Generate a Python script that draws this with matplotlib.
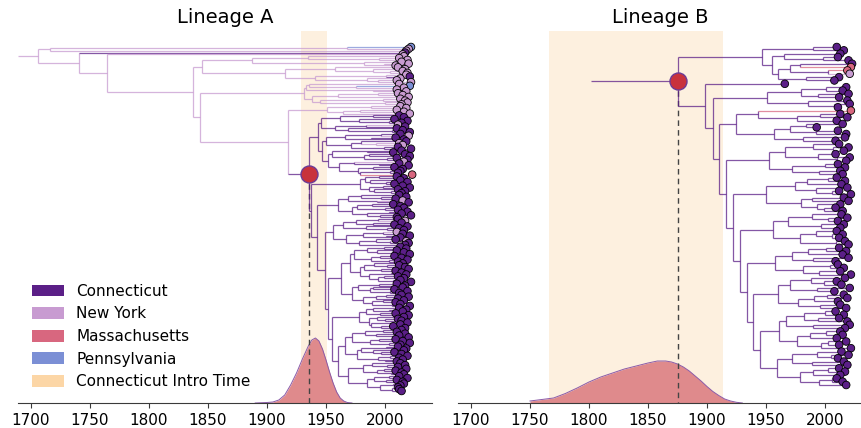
import matplotlib.pyplot as plt
from matplotlib.collections import LineCollection
from matplotlib.patches import Patch
from matplotlib.transforms import blended_transform_factory

# state colours
state_colors = {'c': '#5b1f87', 'n': '#c89bd1', 'm': '#d8677f', 'p': '#7b8fd5'}
state_names = {'c': 'Connecticut', 'n': 'New York', 'm': 'Massachusetts', 'p': 'Pennsylvania'}
intro_color = '#fcd6a6'

# trees: "(child,child)<state><year>", tips "<state><year>", state inherited if missing, * = CT introduction node
A_top = "((p2022,2020)1968,2018)n1716"
A1 = ("(((2016,(2012,2019)1995)1935,(2014,(2020,2009)1999)1982)1887,((2011,(2017,(2015,2019)2004)1990)1958,"
      "((2018,c2021)2001,(2013,(2010,2022)1994)1985)1941)1915)n1845")
A2a = ("(((2012,(p2021,2016)1975)1936,(2010,2018)1990)1933,(((2011,2015)1994,2020)1960,"
       "((2013,2017)1998,(2019,2014)2000)1945)1938)n1931")
A2b_ny = "((2013,2018)1988,((2010,2016)1979,2021)1964)n1951"
U1 = "(((2012,2016)1990,(2008,(2019,2014)2003)1978)1962,((n2011,2017)1984,(2010,(2015,2021)2006)1969)1958)c1946"
U2 = ("((((2013,n2020)1997,(2009,2016)1988)1966,((2018,(2012,2015)n1992)1980,(2011,2022)1999)1971)1950,"
      "(((2014,2007)1985,((2017,2021)1986,(2010,2019)2002)1982)1955,((n2016,(2012,2020)1995)1974,"
      "((2008,2015)1990,((2013,2011)2004,m2023)1979)1977)1961)1952)c1947")
L1 = "(((2010,2016)1995,(2013,(2019,2008)2001)1987)1983,((2015,2021)1998,(2011,(2017,2014)2005)1991)1986)c1979"
L2 = ("(((2012,(2018,2009)1997)1980,(n2015,2020)1993)1969,(((2007,2013)1989,(2016,2011)2000)1976,"
      "((2019,2014)2003,(2022,2010)1996)1985)1972)c1960")
L3 = ("((((2011,n2017)1994,(2014,2008)1990)1975,(2019,(2012,2016)2002)1984)1964,(((n2010,2015)1998,"
      "(2021,2013)2001)1981,((2009,(n2018,2020)2004)1992,2017)1978)1967)c1956")
L4a = ("((((2013,2018)1999,(2010,(2016,2021)2006)1993)1985,((2008,2014)1996,(2019,2011)2003)1988)1974,"
       "(((2015,(2012,2017)2002)1991,(2020,2009)1997)1982,((2014,2018)2005,((2011,2016)1999,(2013,2022)2007)1994)1986)1979)c1970")
L4b = ("(((2010,2017)1995,((2015,2008)1990,(2019,2012)2004)1987)1977,(((2014,2020)2001,2011)1992,"
       "((2016,2009)1998,(2013,2021)2006)1989)1981)c1972")
L5 = ("(((2012,(2018,2015)2003)1990,(2009,2020)1996)1984,((2016,(2011,2014)2000)1993,"
      "((2019,2013)2005,(2007,2017)1997)1988)1986)c1978")
L6a = ("((((2014,2010)1998,(2017,(2012,2020)2006)1992)1983,((2009,2015)1995,(2021,2013)2003)1987)1972,"
       "(((2011,2018)2001,(2016,(2008,2014)1997)1990)1980,((2019,2012)2004,(2015,2010)2000)1994)1976)c1966")
L6b = ("(((2013,(2017,2011)2002)1989,((2018,2009)1999,(2014,2016)2005)1993)1981,(((2012,2019)2003,"
       "(2010,2015)2001)1991,((2016,2013)2007,((2011,2012)2009,2014)2006)1996)1985)c1969")

Btop = ("((2010,2016)1990,((2013,(2011,2020)1998)1965,(((2023,m2022)1979,(m2019,n2021)2003)1970,"
        "(2012,2008)1984)1960)1955)c1947")
B2 = "(((2018,2015)2001,(2020,2012)1994)1980,(2019,(2021,2011)2008)1986)c1951"
B3 = "((m2022,((2013,2019)1996,2010)1976)1943,(((2015,1993)1984,(2011,2018)1992)1970,(2017,2009)1981)1957)c1925"
B4 = "(((2012,(2020,2016)2007)1990,(2009,(2021,2018)2010)1994)1966,((2011,2017)2000,(2013,2015)1995)1972)c1953"
B5 = "((((2010,2017)2003,2014)1985,(2019,(2012,2022)2006)1992)1975,((2016,2020)1989,(2013,(2009,2015)1999)1993)1980)c1950"
B6 = "(((2014,(2019,2011)2003)1989,(2016,2013)1997)1969,((2010,(2015,2012)2006)1992,(2017,2020)2009)1979)c1956"
B7 = "((((2012,2018)2001,2015)1986,(2020,2009)1990)1972,((2011,2016)2004,(2013,2022)1995)1981)c1958"
B8 = "(((2017,(2010,2014)1999)1988,(2021,2008)1993)1970,(((2016,2019)2002,2011)1991,(2013,2018)1996)1977)c1960"
B9 = ("((((2009,2016)2000,(2012,2019)1994)1982,(2021,2017)1990)1967,(((2013,2015)2001,2010)1987,"
      "((2018,2012)2003,2022)1997)1976)c1961")
B10 = "(((2014,(2020,2011)2005)1993,(2016,2019)1989)1972,(((2012,2017)2003,2013)1990,((2010,2015)2006,2018)1995)1979)c1959"

U = "(" + U1 + "," + U2 + ")c1943"
L = ("(" + L1 + ",(" + L2 + ",(" + L3 + ",(" + "(" + L4a + "," + L4b + ")c1963" + ",(" + L5 + ",(" + L6a + "," + L6b +
     ")c1960)c1955)c1952)c1949)c1942)c1937")
N1837 = "(" + A1 + ",(" + A2a + ",(" + A2b_ny + ",(" + U + "," + L + ")c1935.6*)n1918)n1843)n1837"
tree_a = "(" + A_top + ",(c2017,(n2015," + N1837 + ")n1764)n1741)n1706"
tree_b = ("(" + Btop + ",(c1966,(" + B2 + ",(" + B3 + ",(" + B4 + ",(" + B5 + ",(" + B6 + ",(" + B7 + ",(" + B8 + ",(" + B9 +
          "," + B10 + ")c1945)c1939)c1934)c1928)c1922)c1916)c1910)c1905)c1898)c1875.4*")
stem_a = 1689
stem_b = 1802

# introduction time windows
band_a = (1929, 1951)
band_b = (1766, 1914)

# density of the introduction date (height in pixels of the 372 px axes)
kde_top = 372.0
kde_a_years = [1890, 1900, 1905, 1910, 1915, 1920, 1925, 1930, 1935, 1938, 1941, 1944, 1947, 1950, 1953, 1956,
               1959, 1962, 1965, 1968, 1972]
kde_a = [0, 0.5, 1, 3, 8, 18, 30, 44, 57, 63, 65, 62, 54, 43, 31, 20, 11, 5, 2, 0.5, 0]
kde_b_years = [1750, 1760, 1770, 1780, 1790, 1800, 1810, 1820, 1830, 1840, 1850, 1858, 1865, 1870, 1875, 1880,
               1885, 1890, 1895, 1900, 1905, 1910, 1915, 1920, 1925, 1930]
kde_b = [2, 3.5, 5, 9.5, 15, 21, 26, 30, 34, 37, 40, 42, 42, 41, 39, 36, 32, 27, 22, 16.5, 11.5, 7.5, 4, 2, 0.7, 0]


def parse_tree(s):
    i = 0

    def read():
        nonlocal i
        kids = []
        if s[i] == '(':
            i += 1
            kids.append(read())
            while s[i] == ',':
                i += 1
                kids.append(read())
            i += 1
        st = None
        if s[i].isalpha():
            st = s[i]
            i += 1
        j = i
        while i < len(s) and (s[i].isdigit() or s[i] == '.'):
            i += 1
        node = {'t': float(s[j:i]), 's': st, 'kids': kids, 'mark': False}
        if i < len(s) and s[i] == '*':
            node['mark'] = True
            i += 1
        return node

    return read()


def fill_states(n, st):
    n['s'] = n['s'] or st
    for k in n['kids']:
        fill_states(k, n['s'])


def layout(n, tips):
    if not n['kids']:
        n['y'] = len(tips)
        tips.append(n)
        return
    for k in n['kids']:
        layout(k, tips)
    n['y'] = (n['kids'][0]['y'] + n['kids'][-1]['y']) / 2


def collect(n, parent_t, segs, cols, marks):
    c = state_colors[n['s']]
    segs.append([(parent_t, n['y']), (n['t'], n['y'])])
    cols.append(c)
    if n['mark']:
        marks.append(n)
    if n['kids']:
        segs.append([(n['t'], n['kids'][0]['y']), (n['t'], n['kids'][-1]['y'])])
        cols.append(c)
        for k in n['kids']:
            collect(k, n['t'], segs, cols, marks)


def draw_panel(ax, text, stem, tip_top_px, tip_bottom_px, band, kde_years, kde, title, xlim):
    root = parse_tree(text)
    fill_states(root, 'c')
    tips = []
    layout(root, tips)
    segs, cols, marks = [], [], []
    collect(root, stem, segs, cols, marks)

    ax.axvspan(band[0], band[1], color=intro_color, alpha=0.35, lw=0, zorder=0)
    trans = blended_transform_factory(ax.transData, ax.transAxes)
    h = [v / kde_top for v in kde]
    ax.fill_between(kde_years, 0, h, transform=trans, color='#df8a8c', lw=0, zorder=1)
    ax.plot(kde_years, h, transform=trans, color='#8a5aa8', lw=0.7, zorder=1)

    ax.add_collection(LineCollection(segs, colors=cols, linewidths=0.9, alpha=0.75, zorder=3))
    ax.scatter([t['t'] for t in tips], [t['y'] for t in tips], s=30,
               c=[state_colors[t['s']] for t in tips], edgecolors='black', linewidths=0.6, zorder=5)

    n = len(tips)
    scale = (tip_bottom_px - tip_top_px) / (n - 1)
    ylo = (n - 1) + (403 - tip_bottom_px) / scale
    yhi = -(tip_top_px - 31) / scale
    ax.set_ylim(ylo, yhi)
    ax.set_xlim(*xlim)

    m = marks[0]
    ax.plot([m['t'], m['t']], [m['y'], ylo], color='#444444', lw=1, ls=(0, (4, 3)), zorder=2)
    ax.scatter([m['t']], [m['y']], s=150, color='#c8323c', edgecolors='#6b3a96', linewidths=1, zorder=6)

    ax.set_title(title, fontsize=14)
    for side in ['left', 'right', 'top']:
        ax.spines[side].set_visible(False)
    ax.spines['bottom'].set_color('#3a3a3a')
    ax.set_yticks([])
    ax.set_xticks(range(1700, 2001, 50))
    ax.tick_params(axis='x', labelsize=11, length=3.5, color='#3a3a3a')


fig = plt.figure(figsize=(8.62, 4.28), dpi=100)
ax_a = fig.add_axes([18 / 862, 25 / 428, 414 / 862, 372 / 428])
ax_b = fig.add_axes([458 / 862, 25 / 428, 404 / 862, 372 / 428])

draw_panel(ax_a, tree_a, stem_a, 47, 391, band_a, kde_a_years, kde_a, 'Lineage A', (1689, 2039.8))
draw_panel(ax_b, tree_b, stem_b, 47, 385, band_b, kde_b_years, kde_b, 'Lineage B', (1689, 2031.4))

handles = [Patch(facecolor=state_colors[k], label=state_names[k]) for k in ['c', 'n', 'm', 'p']]
handles.append(Patch(facecolor=intro_color, label='Connecticut Intro Time'))
ax_a.legend(handles=handles, loc='lower left', frameon=False, fontsize=11, handlelength=2.1, handleheight=0.8)

fig.savefig('out.png', dpi=100)
